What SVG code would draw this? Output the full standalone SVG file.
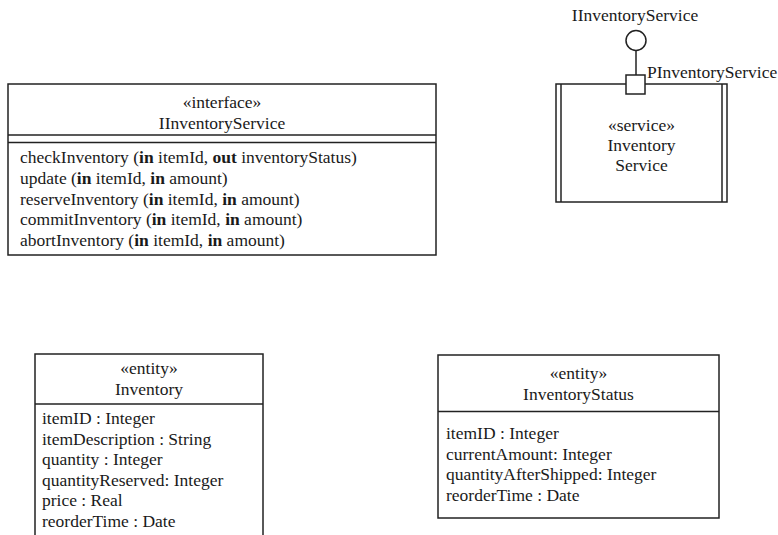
<svg xmlns="http://www.w3.org/2000/svg" width="778" height="535" viewBox="0 0 778 535">
<style>
text{font-family:"Liberation Serif","Times New Roman","DejaVu Serif",serif;font-size:17.5px;fill:#1a1a1a}
.c{text-anchor:middle}
.b{font-weight:bold}
.box{fill:#fff;stroke:#222;stroke-width:1.5}
.ln{stroke:#222;stroke-width:1.5;fill:none}
</style>
<rect width="778" height="535" fill="#fff"/>
<g id="IInventoryService">
<rect class="box" x="8" y="84" width="428" height="171"/>
<line class="ln" x1="8" y1="135" x2="436" y2="135"/>
<line class="ln" x1="8" y1="142.5" x2="436" y2="142.5"/>
<text class="c" x="222" y="107.5">«interface»</text>
<text class="c" x="222" y="128.5">IInventoryService</text>
<text x="20" y="163">checkInventory (<tspan class="b">in</tspan> itemId, <tspan class="b">out</tspan> inventoryStatus)</text>
<text x="20" y="184">update (<tspan class="b">in</tspan> itemId, <tspan class="b">in</tspan> amount)</text>
<text x="20" y="204.5">reserveInventory (<tspan class="b">in</tspan> itemId, <tspan class="b">in</tspan> amount)</text>
<text x="20" y="225">commitInventory (<tspan class="b">in</tspan> itemId, <tspan class="b">in</tspan> amount)</text>
<text x="20" y="245.5">abortInventory (<tspan class="b">in</tspan> itemId, <tspan class="b">in</tspan> amount)</text>
</g>
<g id="InventoryService">
<rect class="box" x="556" y="84" width="171" height="118"/>
<line class="ln" x1="561" y1="84" x2="561" y2="202"/>
<line class="ln" x1="722" y1="84" x2="722" y2="202"/>
<text class="c" x="641.5" y="130.5">«service»</text>
<text class="c" x="641.5" y="150.5">Inventory</text>
<text class="c" x="641.5" y="170.5">Service</text>
</g>
<g id="connectors">
<line class="ln" x1="636" y1="51" x2="636" y2="75"/>
</g>
<g id="IInventoryService-lollipop">
<circle class="box" cx="636" cy="40.5" r="10"/>
<text class="c" x="635" y="21">IInventoryService</text>
</g>
<g id="PInventoryService">
<rect class="box" x="626" y="75" width="19" height="19"/>
<text x="647" y="78">PInventoryService</text>
</g>
<g id="Inventory">
<rect class="box" x="35" y="354" width="228" height="190"/>
<line class="ln" x1="35" y1="404" x2="263" y2="404"/>
<text class="c" x="149" y="374">«entity»</text>
<text class="c" x="149" y="394.5">Inventory</text>
<text x="42" y="424">itemID : Integer</text>
<text x="42" y="444.5">itemDescription : String</text>
<text x="42" y="465">quantity : Integer</text>
<text x="42" y="485.5">quantityReserved: Integer</text>
<text x="42" y="506">price : Real</text>
<text x="42" y="526.5">reorderTime : Date</text>
</g>
<g id="InventoryStatus">
<rect class="box" x="438" y="355" width="281" height="163"/>
<line class="ln" x1="438" y1="411.5" x2="719" y2="411.5"/>
<text class="c" x="578.5" y="379">«entity»</text>
<text class="c" x="578.5" y="400">InventoryStatus</text>
<text x="446" y="439">itemID : Integer</text>
<text x="446" y="459.5">currentAmount:  Integer</text>
<text x="446" y="480">quantityAfterShipped: Integer</text>
<text x="446" y="500.5">reorderTime : Date</text>
</g>
</svg>
